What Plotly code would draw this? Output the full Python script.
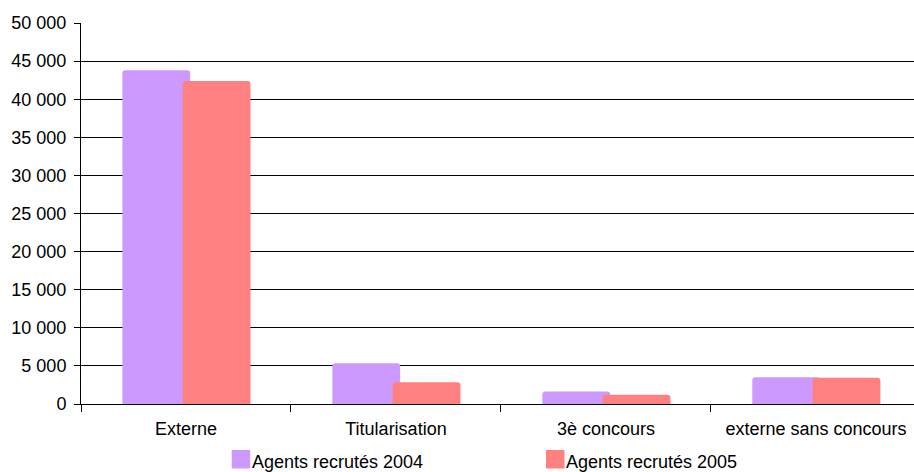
import plotly.graph_objects as go

# Recruitment categories and the number of agents recruited per year
categories = ["Externe", "Titularisation", "3è concours", "externe sans concours"]
agents_2004 = [43800, 5350, 1650, 3500]
agents_2005 = [42400, 2850, 1220, 3450]
series_names = ["Agents recrutés 2004", "Agents recrutés 2005"]
series_colors = ["#CC99FF", "#FF8080"]
y_ticks = [0, 5000, 10000, 15000, 20000, 25000, 30000, 35000, 40000, 45000, 50000]

FONT = "Liberation Sans, Arial, sans-serif"

fig = go.Figure()
for vals, name, color, off in zip([agents_2004, agents_2005], series_names,
                                  series_colors, [-0.303, -0.016]):
    fig.add_trace(go.Bar(
        x=categories, y=vals, name=name,
        marker=dict(color=color, line=dict(width=0)),
        width=0.323, offset=off,
    ))

# Legend drawn below the axis as colour squares with labels (paper coordinates)
PLOT_L, PLOT_R, PLOT_T, PLOT_B = 81, 914, 23, 404
pw, ph = PLOT_R - PLOT_L, PLOT_B - PLOT_T

def px_x(px):
    return (px - PLOT_L) / pw

def px_y(py):
    return (PLOT_B - py) / ph

shapes, annotations = [], []
for name, color, sq_left in zip(series_names, series_colors, [231.7, 546.0]):
    shapes.append(dict(type="rect", xref="paper", yref="paper",
                       x0=px_x(sq_left), x1=px_x(sq_left + 18.5),
                       y0=px_y(468.5), y1=px_y(450.0),
                       fillcolor=color, line=dict(width=0)))
    annotations.append(dict(text=name, xref="paper", yref="paper",
                            x=px_x(sq_left + 18.0), y=px_y(461.8),
                            xanchor="left", yanchor="middle", showarrow=False,
                            font=dict(family=FONT, size=18, color="#000")))

fig.update_layout(
    width=914, height=472,
    margin=dict(l=81, r=0, t=23, b=68, pad=0),
    paper_bgcolor="white", plot_bgcolor="white",
    barmode="overlay", barcornerradius=3,
    separators=", ",
    showlegend=False,
    font=dict(family=FONT, size=18, color="#000"),
    shapes=shapes, annotations=annotations,
)
fig.update_xaxes(
    type="category", range=[-0.5, 3.467],
    tickson="boundaries", ticks="outside", ticklen=7, tickcolor="#000",
    showline=True, linecolor="#000", linewidth=1,
    showgrid=False, ticklabelstandoff=8,
    tickfont=dict(family=FONT, size=18, color="#000"),
)
fig.update_yaxes(
    range=[0, 50000], tickvals=y_ticks, tickformat=",d",
    ticks="outside", ticklen=6, tickcolor="#000",
    showline=True, linecolor="#000", linewidth=1,
    showgrid=True, gridcolor="#000", gridwidth=1, zeroline=False,
    ticklabelstandoff=4,
    tickfont=dict(family=FONT, size=18, color="#000"),
)

fig.write_html("out.html")
